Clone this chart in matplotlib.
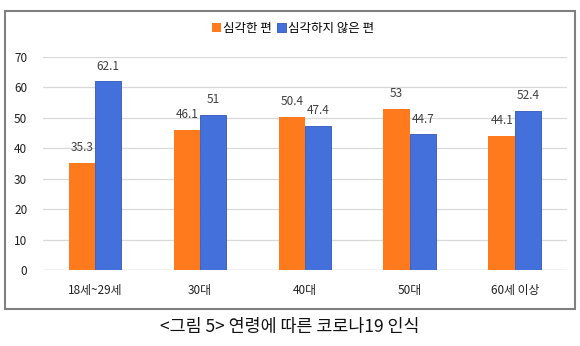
import numpy as np
import matplotlib.pyplot as plt
from matplotlib.patches import Rectangle

plt.rcParams['font.family'] = ['Noto Sans CJK KR', 'DejaVu Sans']

categories = ['18세~29세', '30대', '40대', '50대', '60세 이상']
serious = [35.3, 46.1, 50.4, 53, 44.1]
not_serious = [62.1, 51, 47.4, 44.7, 52.4]
series_names = ['심각한 편', '심각하지 않은 편']
caption = '<그림 5> 연령에 따른 코로나19 인식'

orange = '#FF7A1C'
blue = '#4370DB'

fig = plt.figure(figsize=(5.8, 3.46), dpi=100)
fig.patches.append(Rectangle((0.0086, 0.107), 0.983, 0.861, transform=fig.transFigure,
                             fill=False, edgecolor='#7f7f7f', linewidth=1.5))

ax = fig.add_axes([0.0733, 0.2197, 0.905, 0.6156])
x = np.arange(len(categories))
w = 0.252
b1 = ax.bar(x - w / 2, serious, w, color=orange, label=series_names[0], zorder=3)
b2 = ax.bar(x + w / 2, not_serious, w, color=blue, edgecolor='#2f55b8', linewidth=0.6,
            label=series_names[1], zorder=3)

for bars in (b1, b2):
    for r in bars:
        v = r.get_height()
        ax.annotate(f'{v:g}', (r.get_x() + r.get_width() / 2, v), xytext=(0, 6),
                    textcoords='offset points', ha='center', va='bottom',
                    fontsize=8.5, color='#404040')

ax.set_xlim(-0.5, len(categories) - 0.5)
ax.set_ylim(0, 70)
ax.set_yticks(range(0, 71, 10))
ax.set_xticks(x)
ax.set_xticklabels(categories)
ax.tick_params(length=0, labelsize=8.5, colors='#222222')
ax.tick_params(axis='x', pad=10)
ax.tick_params(axis='y', pad=11)
ax.grid(axis='y', color='#d9d9d9', linewidth=0.9, zorder=0)
for s in ax.spines.values():
    s.set_visible(False)
ax.axhline(0, color='#d0d0d0', linewidth=1, zorder=2)

fig.legend(loc='center', bbox_to_anchor=(0.505, 0.918), ncol=2, frameon=False,
           fontsize=9, handlelength=0.7, handleheight=0.7, handletextpad=0.2,
           columnspacing=0.4, borderaxespad=0)

fig.text(0.5, 0.055, caption, ha='center', va='center', fontsize=12.5, color='#111111')

fig.savefig('out.png', dpi=100)
